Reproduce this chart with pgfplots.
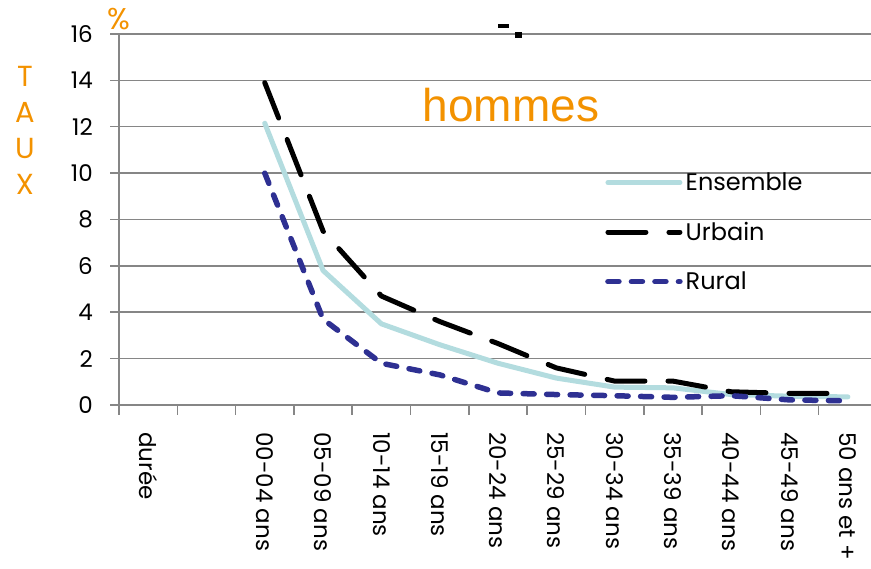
\documentclass[border=0pt]{standalone}
\usepackage{fontspec}
\usepackage{pgfplots}
\pgfplotsset{compat=1.18}
\setmainfont{Poppins}
\newfontfamily\arialf{Liberation Sans}
\definecolor{orangeT}{HTML}{F39200}
\definecolor{ensemble}{HTML}{B3DCDF}
\definecolor{rural}{HTML}{2E3092}
\definecolor{gridgray}{HTML}{868686}

\begin{document}
\begin{tikzpicture}[x=1bp,y=1bp]
\useasboundingbox (0,0) rectangle (871,569);
\begin{axis}[
  at={(119bp,164bp)}, anchor=south west,
  scale only axis, width=758bp, height=371bp,
  xmin=-0.5, xmax=12.5, ymin=0, ymax=16,
  axis x line=bottom, axis y line=left,
  axis line style={-, gridgray, line width=1.5bp},
  ytick={0,2,...,16},
  ymajorgrids, grid style={gridgray, line width=1.5bp},
  xtick={0,...,12},
  xticklabels={durée,,00-04 ans,05-09 ans,10-14 ans,15-19 ans,20-24 ans,25-29 ans,30-34 ans,35-39 ans,40-44 ans,45-49 ans,50 ans et +},
  major x tick style={draw=none},
  minor xtick={-0.5,0.5,...,12.5},
  tick align=outside,
  major tick length=9bp, minor tick length=10bp,
  tick style={gridgray, line width=1.5bp},
  tick label style={font=\fontsize{23bp}{23bp}\selectfont, text=black},
  /pgf/number format/assume math mode=true,
  xticklabel style={rotate=-90, anchor=west, inner sep=0pt},
  yticklabel style={inner sep=0pt},
  xticklabel shift=18bp,
  yticklabel shift=17bp,
  legend image code/.code={\draw[#1] (0bp,0bp) -- (72bp,0bp);},
  legend style={draw=none, fill=none, at={(0.6372,0.466)}, anchor=west,
    font=\fontsize{24bp}{24bp}\selectfont, nodes={inner sep=3bp},
    row sep=24bp, cells={anchor=west}},
]
\addplot[ensemble, line width=5bp, line join=round, line cap=round] coordinates {
  (2,12.15) (3,5.8) (4,3.5) (5,2.6) (6,1.8) (7,1.16) (8,0.77) (9,0.74) (10,0.45) (11,0.38) (12,0.35)};
\addlegendentry{Ensemble}
\addplot[black, line width=5bp, line join=round, line cap=round, dash pattern=on 38bp off 23bp] coordinates {
  (2,13.9) (3,7.5) (4,4.7) (5,3.6) (6,2.65) (7,1.6) (8,1.03) (9,1.03) (10,0.57) (11,0.5) (12,0.5)};
\addlegendentry{Urbain}
\addplot[rural, line width=5.5bp, line join=round, line cap=round, dash pattern=on 11bp off 12.5bp] coordinates {
  (2,10.0) (3,3.7) (4,1.8) (5,1.3) (6,0.52) (7,0.45) (8,0.4) (9,0.33) (10,0.4) (11,0.22) (12,0.18)};
\addlegendentry{Rural}
\end{axis}
\node[text=orangeT, font=\fontsize{30bp}{30bp}\selectfont] at (119,550) {\%};
\node[text=orangeT, align=center, font=\fontsize{29bp}{36bp}\selectfont] at (25,439) {T\\A\\U\\X};
\node[text=orangeT, anchor=base, font=\arialf\fontsize{46bp}{46bp}\selectfont] at (511,447) {hommes};
\fill[black] (498,545) rectangle (509,541);
\fill[black] (515,537) rectangle (522,531);
\end{tikzpicture}
\end{document}
